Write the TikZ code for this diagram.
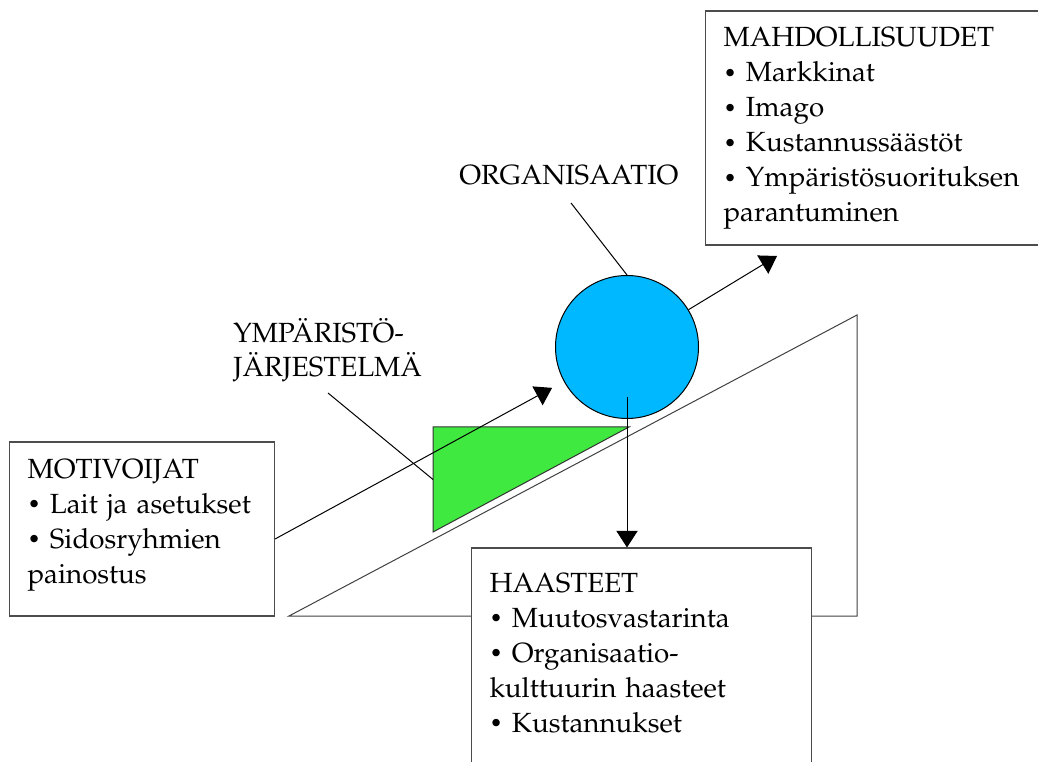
\documentclass[tikz,border=0pt]{standalone}
\usepackage[T1]{fontenc}
\usepackage{mathpazo}
\usepackage{tikz}
\usetikzlibrary{arrows.meta,calc}
\definecolor{orgblue}{RGB}{0,184,255}
\definecolor{emsgreen}{RGB}{64,233,64}
\newcommand{\bul}{\raisebox{0.06em}{\scalebox{0.78}{\textbullet}}\ }

\begin{document}
\begin{tikzpicture}[x=0.75pt,y=-0.75pt,
        txt/.style={font=\fontsize{20.8}{26.25}\selectfont, align=left, anchor=base west},
        box/.style={txt, draw=black!70, line width=0.8pt, fill=white, inner xsep=13.5pt, text height=14.25pt},
        lbl/.style={txt, inner sep=0pt},
        arr/.style={-{Triangle[width=16pt,length=12.5pt]}, line width=0.75pt}]
        \useasboundingbox (0,0) rectangle (1038,762);
        % the slope
        \coordinate (s1) at (289,616);
        \coordinate (s2) at (857,315);
        \coordinate (s3) at (857,616);
        \draw[black!75, line width=0.75pt] (s1) -- (s2) -- (s3) -- cycle;
        % the wedge (environmental system)
        \coordinate (g1) at (433,427);
        \coordinate (g2) at (629,427);
        \coordinate (g3) at (433,532);
        \coordinate (gmid) at ($(g1)!0.5!(g3)$);
        \filldraw[fill=emsgreen, draw=black!80, line width=0.75pt] (g1) -- (g2) -- (g3) -- cycle;
        \node[circle, fill=orgblue, draw, line width=0.75pt, minimum size=107.25pt, inner sep=0pt] (org) at (627,347) {};
        \node[lbl] (orglabel) at (459,185) {ORGANISAATIO};
        \node[lbl, text width=200pt, font=\fontsize{20.8}{25.5}\selectfont] (emslabel) at (233,343) {YMP\"ARIST\"O-\\J\"ARJESTELM\"A};
        \node[box, inner ysep=12.75pt, text width=171.75pt, text depth=90.75pt] (motiv) at (9,478)
            {MOTIVOIJAT\\ \bul Lait ja asetukset\\ \bul Sidosryhmien\\ painostus};
        \node[box, inner ysep=12.75pt, text width=239.25pt, text depth=135.75pt] (mahd) at (705,47)
            {MAHDOLLISUUDET\\ \bul Markkinat\\ \bul Imago\\ \bul Kustannuss\"a\"ast\"ot\\ \bul Ymp\"arist\"osuorituksen\\ parantuminen};
        \node[box, inner ysep=18.75pt, text width=228pt, text depth=150pt] (haast) at (471,592)
            {HAASTEET\\ \bul Muutosvastarinta\\ \bul Organisaatio-\\ kulttuurin haasteet\\ \bul Kustannukset};
        % arrows
        \coordinate (mahdin) at (777,256);
        \draw[arr, shorten >=10pt] ([yshift=-7.5pt]motiv.east) -- (org);
        \draw[arr] (org) -- (mahdin);
        \draw[arr] ([yshift=-37.5pt]org.center) -- (org.center |- haast.north);
        % leaders
        \coordinate (orgtip) at (571,203);
        \coordinate (emstip) at (328,393);
        \draw[line width=0.75pt] (orgtip) -- (org.north);
        \draw[line width=0.75pt] (emstip) -- (gmid);
    \end{tikzpicture}
\end{document}
